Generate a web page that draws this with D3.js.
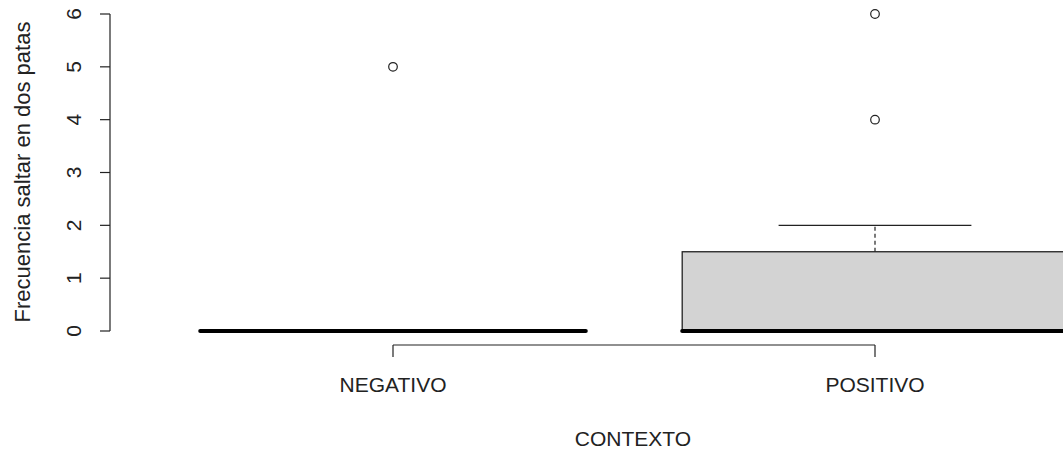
<!DOCTYPE html>
<html>
<head>
<meta charset="utf-8">
<script src="https://cdn.jsdelivr.net/npm/d3@7"></script>
<style>
  html, body { margin: 0; padding: 0; background: #fff; }
  svg { display: block; font-family: "Liberation Sans", Arial, sans-serif; }
</style>
</head>
<body>
<svg id="chart" width="1063" height="453"></svg>
<script>
// Box-plot summary per context group
const categories   = ["NEGATIVO", "POSITIVO"];
const lowerWhisker = [0, 0];
const q1           = [0, 0];
const median       = [0, 0];
const q3           = [0, 1.5];
const upperWhisker = [0, 2];
const outliers     = [[5], [6, 4]];
const yTicks       = [0, 1, 2, 3, 4, 5, 6];

const xTitle = "CONTEXTO";
const yTitle = "Frecuencia saltar en dos patas";

const groups = categories.map((c, i) => ({
  name: c, pos: i + 1,
  lo: lowerWhisker[i], q1: q1[i], med: median[i], q3: q3[i], hi: upperWhisker[i],
  out: outliers[i]
}));

const svg = d3.select("#chart");
const fontSize = 21;

// group positions 1..n on a continuous scale
const x = d3.scaleLinear().domain([1, 2]).range([393, 875]);
const y = d3.scaleLinear().domain([0, 6]).range([331, 14]);
const unit = x(2) - x(1);
const boxHalf = unit * 0.4;
const stapleHalf = boxHalf / 2;

const ink = "#222";

// boxes
const g = svg.append("g");
groups.forEach(d => {
  const cx = x(d.pos);
  // whiskers (dashed)
  g.append("line")
    .attr("x1", cx).attr("x2", cx)
    .attr("y1", y(d.q3)).attr("y2", y(d.hi))
    .attr("stroke", ink).attr("stroke-width", 1.2)
    .attr("stroke-dasharray", "4,3");
  g.append("line")
    .attr("x1", cx).attr("x2", cx)
    .attr("y1", y(d.q1)).attr("y2", y(d.lo))
    .attr("stroke", ink).attr("stroke-width", 1.2)
    .attr("stroke-dasharray", "4,3");
  // staples
  if (d.hi > d.q3) {
    g.append("line")
      .attr("x1", cx - stapleHalf).attr("x2", cx + stapleHalf)
      .attr("y1", y(d.hi)).attr("y2", y(d.hi))
      .attr("stroke", ink).attr("stroke-width", 1.2);
  }
  if (d.lo < d.q1) {
    g.append("line")
      .attr("x1", cx - stapleHalf).attr("x2", cx + stapleHalf)
      .attr("y1", y(d.lo)).attr("y2", y(d.lo))
      .attr("stroke", ink).attr("stroke-width", 1.2);
  }
  // box
  g.append("rect")
    .attr("x", cx - boxHalf)
    .attr("y", y(d.q3))
    .attr("width", boxHalf * 2)
    .attr("height", y(d.q1) - y(d.q3))
    .attr("fill", "#d3d3d3")
    .attr("stroke", ink).attr("stroke-width", 1.3);
  // median
  g.append("line")
    .attr("x1", cx - boxHalf).attr("x2", cx + boxHalf)
    .attr("y1", y(d.med)).attr("y2", y(d.med))
    .attr("stroke", "#000").attr("stroke-width", 4)
    .attr("stroke-linecap", "round");
  // outliers
  d.out.forEach(v => {
    g.append("circle")
      .attr("cx", cx).attr("cy", y(v)).attr("r", 4.3)
      .attr("fill", "none").attr("stroke", ink).attr("stroke-width", 1.2);
  });
});

// y axis (R style: line spans first to last tick, labels rotated)
const yAxisX = 110;
const ya = svg.append("g");
ya.append("line")
  .attr("x1", yAxisX).attr("x2", yAxisX)
  .attr("y1", y(yTicks[0])).attr("y2", y(yTicks[yTicks.length - 1]))
  .attr("stroke", ink).attr("stroke-width", 1.2);
yTicks.forEach(t => {
  ya.append("line")
    .attr("x1", yAxisX - 10).attr("x2", yAxisX)
    .attr("y1", y(t)).attr("y2", y(t))
    .attr("stroke", ink).attr("stroke-width", 1.2);
  ya.append("text")
    .attr("transform", `translate(81,${y(t)}) rotate(-90)`)
    .attr("text-anchor", "middle")
    .attr("font-size", fontSize)
    .attr("fill", ink)
    .text(t);
});

// x axis bracket
const xAxisY = 345;
const xa = svg.append("g");
xa.append("line")
  .attr("x1", x(1)).attr("x2", x(categories.length))
  .attr("y1", xAxisY).attr("y2", xAxisY)
  .attr("stroke", ink).attr("stroke-width", 1.2);
groups.forEach(d => {
  xa.append("line")
    .attr("x1", x(d.pos)).attr("x2", x(d.pos))
    .attr("y1", xAxisY).attr("y2", xAxisY + 12)
    .attr("stroke", ink).attr("stroke-width", 1.2);
  xa.append("text")
    .attr("x", x(d.pos)).attr("y", 392)
    .attr("text-anchor", "middle")
    .attr("font-size", fontSize)
    .attr("fill", ink)
    .text(d.name);
});

// axis titles
svg.append("text")
  .attr("x", 633).attr("y", 446)
  .attr("text-anchor", "middle")
  .attr("font-size", fontSize)
  .attr("fill", ink)
  .text(xTitle);

svg.append("text")
  .attr("transform", "translate(30,172) rotate(-90)")
  .attr("text-anchor", "middle")
  .attr("font-size", 22)
  .attr("fill", ink)
  .text(yTitle);
</script>
</body>
</html>
